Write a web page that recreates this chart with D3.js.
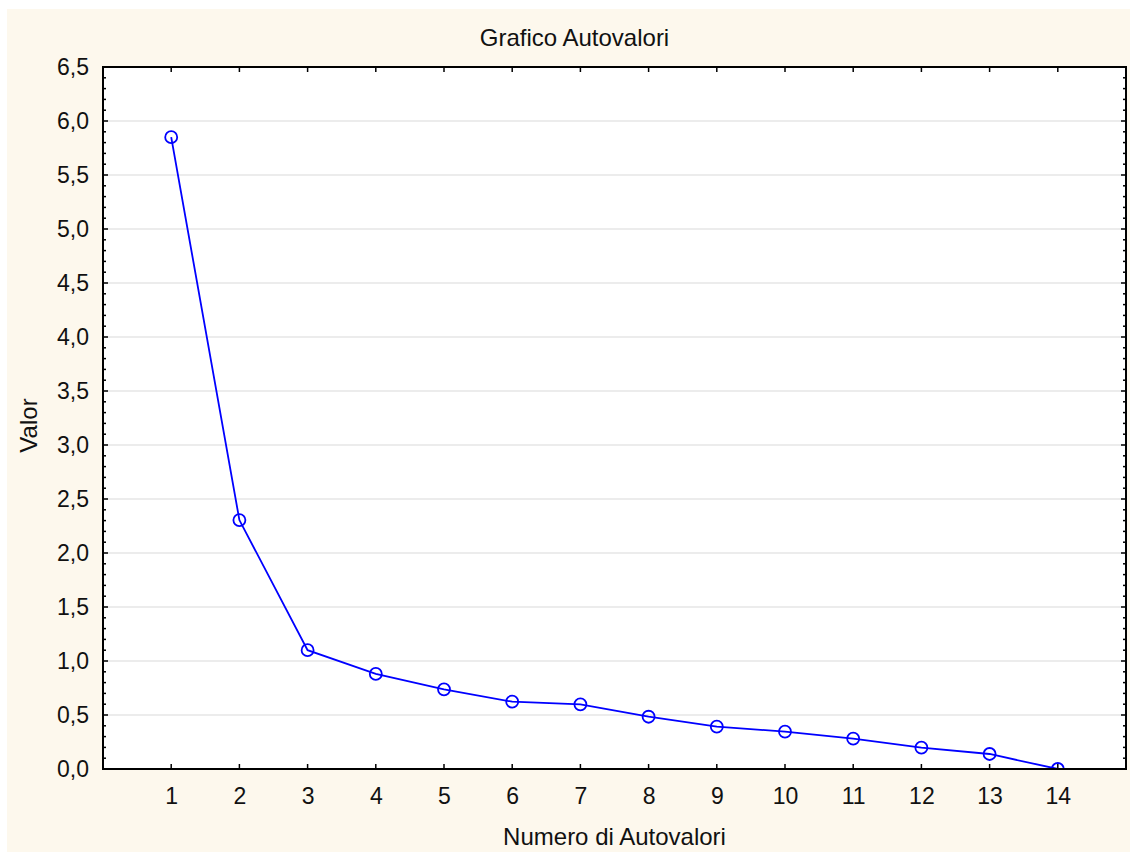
<!DOCTYPE html>
<head>
    <meta charset="utf-8" />
    <script src="https://d3js.org/d3.v7.min.js"></script>
    <style>
        body { margin: 0; background: #fff; }
        text { font-family: "Liberation Sans", Arial, sans-serif; fill: #111; }
    </style>
    <title>Grafico Autovalori</title>
</head>
<body>
<script>
    // dati
    var numeri = [1, 2, 3, 4, 5, 6, 7, 8, 9, 10, 11, 12, 13, 14];
    var autovalori = [5.85, 2.305, 1.10, 0.88, 0.738, 0.623, 0.599, 0.484, 0.392, 0.346, 0.281, 0.197, 0.139, 0.0];
    var yTicks = [0, 0.5, 1, 1.5, 2, 2.5, 3, 3.5, 4, 4.5, 5, 5.5, 6, 6.5];

    var width = 1130, height = 852;
    var margin = {left: 103, right: 4, top: 67, bottom: 83};

    var svg = d3.select("body").append("svg")
        .attr("width", width)
        .attr("height", height);

    svg.append("rect")
        .attr("x", 7).attr("y", 9)
        .attr("width", width - 7).attr("height", height - 9)
        .attr("fill", "#fdf8ed");

    var x = d3.scaleLinear().domain([0, 15]).range([margin.left, width - margin.right]);
    var y = d3.scaleLinear().domain([0, 6.5]).range([height - margin.bottom, margin.top]);

    var fmt = function (d) { return d3.format(".1f")(d).replace(".", ","); };

    svg.append("rect")
        .attr("x", x(0)).attr("y", y(6.5))
        .attr("width", x(15) - x(0)).attr("height", y(0) - y(6.5))
        .attr("fill", "#fff");

    // griglia
    svg.append("g").selectAll("line")
        .data(yTicks.filter(d => d > 0 && d < 6.5))
        .join("line")
        .attr("x1", x(0)).attr("x2", x(15))
        .attr("y1", d => y(d)).attr("y2", d => y(d))
        .attr("stroke", "#dadada").attr("stroke-width", 1.2);

    // assi (tacche verso l'interno)
    var minor = d3.range(0, 66).map(d => d / 10);
    var yAxisL = d3.axisLeft(y).tickValues(yTicks).tickFormat(fmt).tickSize(0).tickPadding(14);
    var gL = svg.append("g").attr("transform", "translate(" + x(0) + ",0)").call(yAxisL);
    gL.select(".domain").remove();
    gL.selectAll("text").style("font-size", "23px");

    var ticksG = svg.append("g").attr("stroke", "#000").attr("stroke-width", 1.5);
    ticksG.selectAll(".ml").data(minor).join("line")
        .attr("x1", x(0)).attr("x2", d => x(0) + (Math.abs(d * 2 - Math.round(d * 2)) < 1e-6 ? 5 : 3))
        .attr("y1", d => y(d)).attr("y2", d => y(d));
    ticksG.selectAll(".mr").data(minor).join("line")
        .attr("x1", x(15)).attr("x2", d => x(15) - (Math.abs(d * 2 - Math.round(d * 2)) < 1e-6 ? 5 : 3))
        .attr("y1", d => y(d)).attr("y2", d => y(d));
    ticksG.selectAll(".xb").data(numeri).join("line")
        .attr("x1", d => x(d)).attr("x2", d => x(d))
        .attr("y1", y(0)).attr("y2", y(0) - 5);
    ticksG.selectAll(".xt").data(numeri).join("line")
        .attr("x1", d => x(d)).attr("x2", d => x(d))
        .attr("y1", y(6.5)).attr("y2", y(6.5) + 5);

    var xAxis = d3.axisBottom(x).tickValues(numeri).tickFormat(d3.format("d")).tickSize(0).tickPadding(19);
    var gB = svg.append("g").attr("transform", "translate(0," + y(0) + ")").call(xAxis);
    gB.select(".domain").remove();
    gB.selectAll("text").style("font-size", "23px");

    // serie
    svg.append("clipPath").attr("id", "clip")
        .append("rect")
        .attr("x", x(0)).attr("y", y(6.5))
        .attr("width", x(15) - x(0)).attr("height", y(0) - y(6.5));

    var dati = numeri.map((n, i) => ({n: n, v: autovalori[i]}));
    var plot = svg.append("g").attr("clip-path", "url(#clip)");
    plot.append("path")
        .datum(dati)
        .attr("fill", "none")
        .attr("stroke", "#0000ff")
        .attr("stroke-width", 1.8)
        .attr("d", d3.line().x(d => x(d.n)).y(d => y(d.v)));
    plot.selectAll("circle").data(dati).join("circle")
        .attr("cx", d => x(d.n)).attr("cy", d => y(d.v))
        .attr("r", 6)
        .attr("fill", "none")
        .attr("stroke", "#0000ff")
        .attr("stroke-width", 1.8);

    // cornice
    svg.append("rect")
        .attr("x", x(0)).attr("y", y(6.5))
        .attr("width", x(15) - x(0)).attr("height", y(0) - y(6.5))
        .attr("fill", "none").attr("stroke", "#000").attr("stroke-width", 2);

    // titoli
    svg.append("text")
        .attr("x", 574.5).attr("y", 46)
        .attr("text-anchor", "middle")
        .style("font-size", "24px")
        .text("Grafico Autovalori");
    svg.append("text")
        .attr("x", (x(0) + x(15)) / 2).attr("y", 845)
        .attr("text-anchor", "middle")
        .style("font-size", "24px")
        .text("Numero di Autovalori");
    svg.append("text")
        .attr("transform", "translate(37,425.5) rotate(-90)")
        .attr("text-anchor", "middle")
        .style("font-size", "24px")
        .text("Valor");
</script>
</body>
